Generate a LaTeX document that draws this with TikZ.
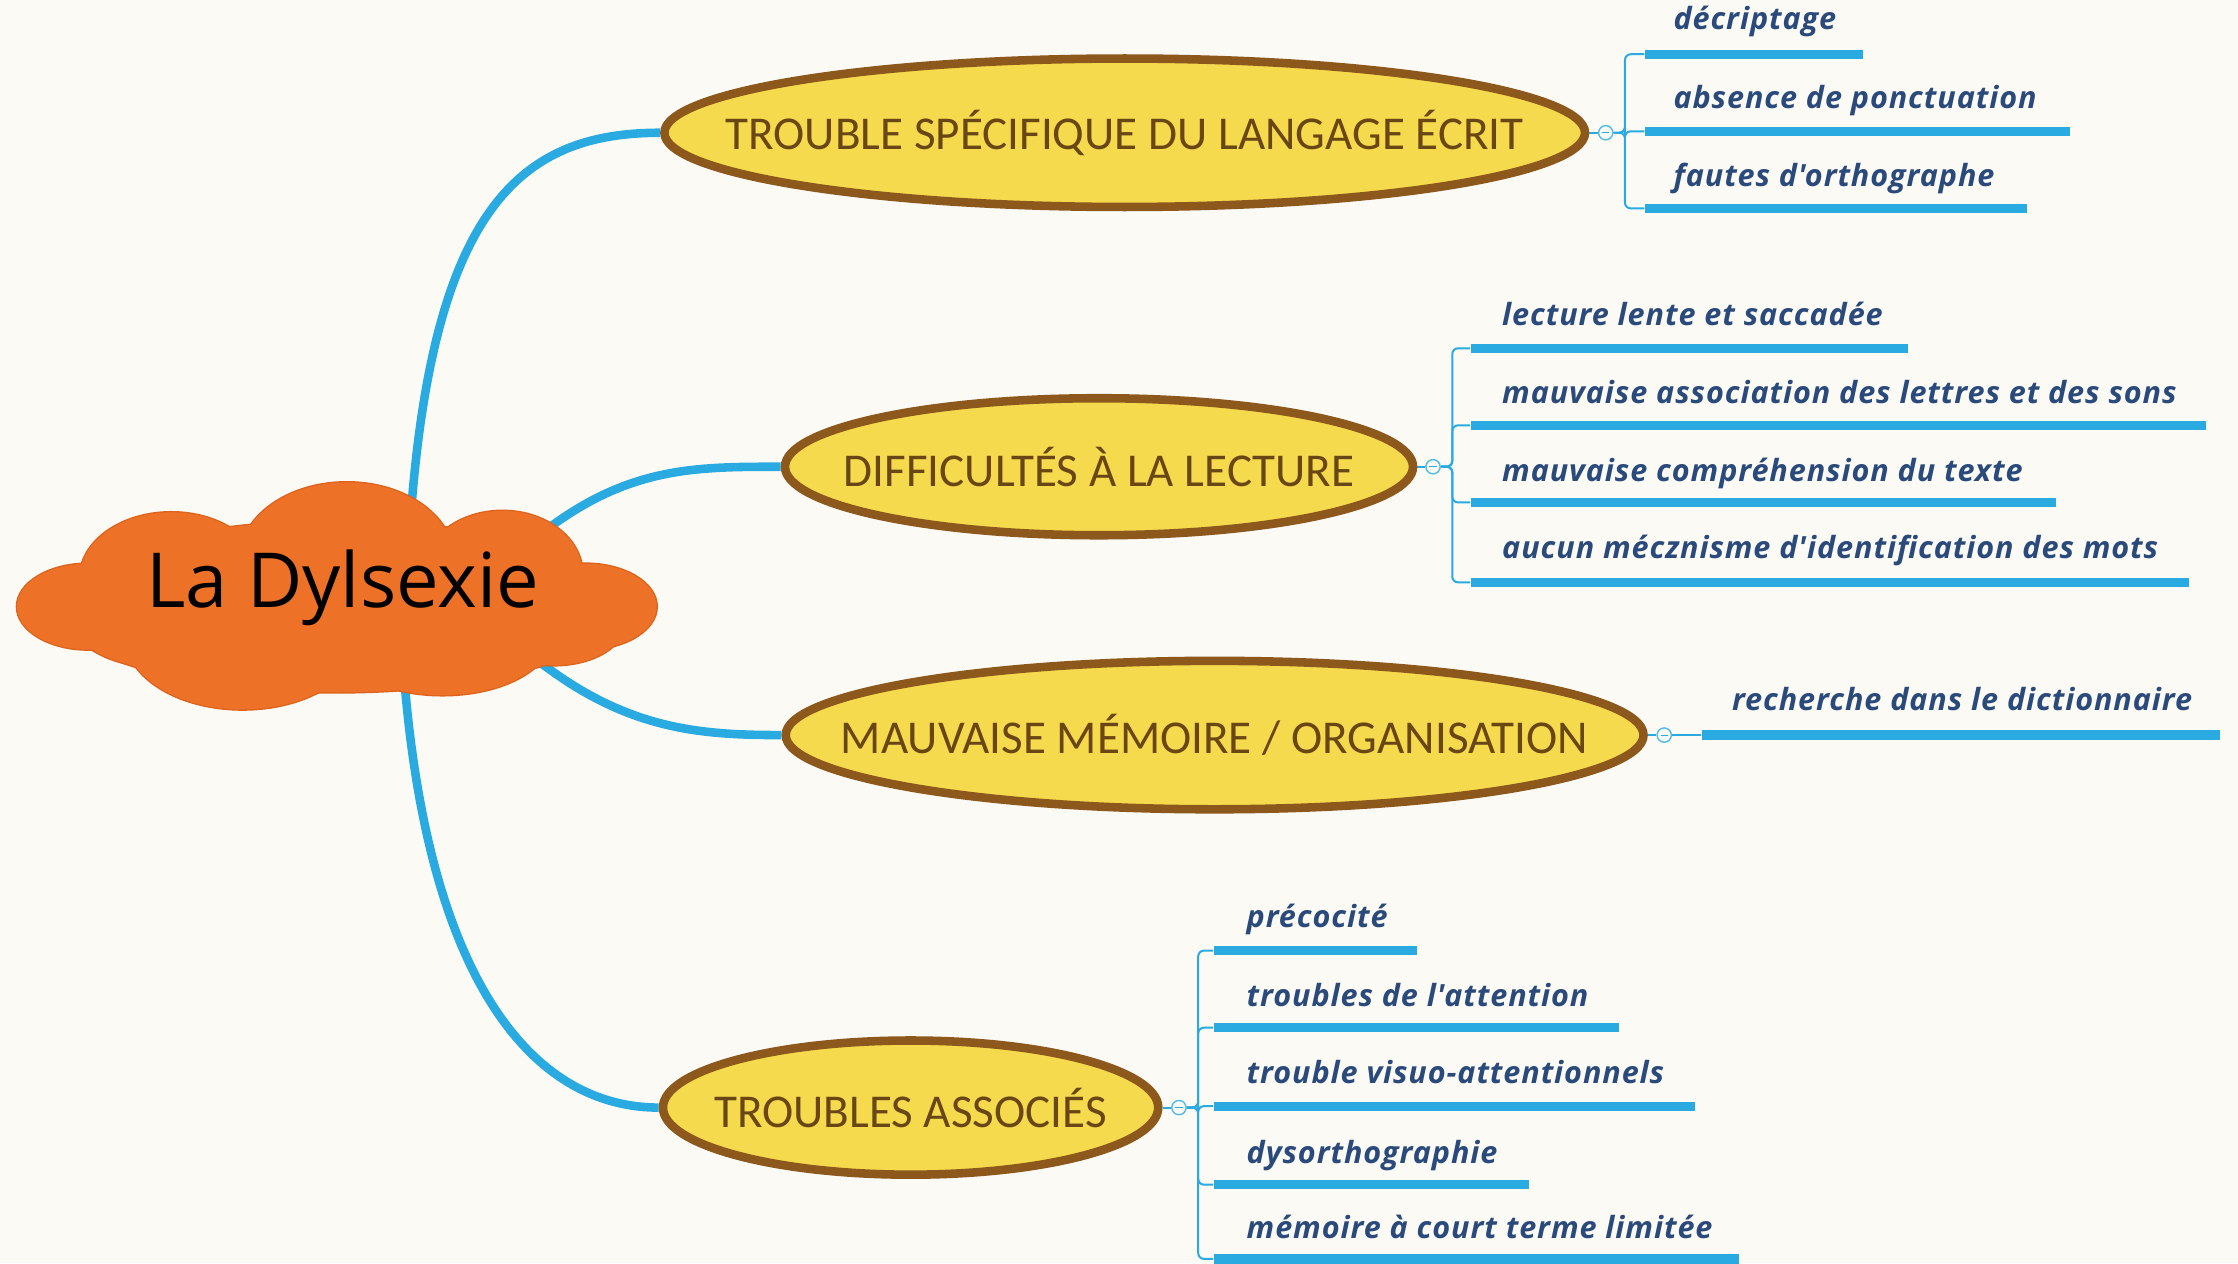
\documentclass[tikz,border=0pt]{standalone}
\usepackage{fontspec}
\usetikzlibrary{shapes.geometric}
\newfontfamily\carl{Carlito}
\newfontfamily\osans{Open Sans}
\newfontfamily\osleaf{Open Sans}[LetterSpace=3]
\newlength\spx \setlength\spx{0.40611pt}
\newcommand\zw[1]{\makebox[0pt][c]{#1}}
\definecolor{bgc}{RGB}{252,250,245}
\definecolor{bluec}{RGB}{41,171,226}
\definecolor{yellowc}{RGB}{246,218,78}
\definecolor{brownc}{RGB}{140,88,28}
\definecolor{browntext}{RGB}{105,70,20}
\definecolor{leaftext}{RGB}{42,74,124}
\definecolor{cloudc}{RGB}{237,113,38}
\definecolor{cloudedge}{RGB}{222,100,30}
\pgfdeclarelayer{bg}
\pgfsetlayers{bg,main}
\tikzset{
  topic/.style={ellipse, draw=brownc, line width=6\spx, fill=yellowc, inner sep=0pt,
    font=\carl\fontsize{13.4pt}{15pt}\selectfont, text=browntext},
  mainlink/.style={draw=bluec, line width=6\spx},
  branch/.style={draw=bluec, line width=1.4\spx, rounded corners=4\spx},
  bar/.style={fill=bluec, minimum height=6.5\spx, inner sep=0pt, anchor=west},
  leaf/.style={anchor=base west, inner sep=0pt, text=leaftext,
    font=\osleaf\bfseries\itshape\fontsize{8.7pt}{10pt}\selectfont},
  knob/.style={circle, draw=bluec!80, fill=bgc, line width=1\spx, minimum size=10\spx, inner sep=0pt,
    path picture={\draw[bluec, line width=0.8\spx]
      ([xshift=-2.5\spx]path picture bounding box.center) -- ([xshift=2.5\spx]path picture bounding box.center);}},
  rootnode/.style={inner sep=0pt, font=\osans\fontsize{21.6pt}{25pt}\selectfont, text=black},
  puff/.style={fill=cloudc},
  puffedge/.style={draw=cloudedge, line width=2\spx}
}
\begin{document}
\begin{tikzpicture}[x=0.40611pt, y=-0.40611pt]
\useasboundingbox (0,0) rectangle (1568,885);
\begin{pgfonlayer}{bg}
\fill[bgc] (0,0) rectangle (1568,885);
\end{pgfonlayer}

% cloud body (edge pass first, then fill pass)
\begin{scope}
\foreach \s in {puffedge,puff}{
\path[\s] (236,425) ellipse [x radius=198, y radius=60];
\path[\s] (243,392) ellipse [x radius=75, y radius=54];
\path[\s] (120,405) ellipse [x radius=64, y radius=46];
\path[\s] (352,402) ellipse [x radius=56, y radius=44];
\path[\s] (62,425) ellipse [x radius=50, y radius=30];
\path[\s] (410,425) ellipse [x radius=50, y radius=30];
\path[\s] (110,435) ellipse [x radius=58, y radius=32];
\path[\s] (170,446) ellipse [x radius=82, y radius=51];
\path[\s] (310,446) ellipse [x radius=76, y radius=41];
\path[\s] (388,436) ellipse [x radius=50, y radius=30];
}
\end{scope}
\node[rootnode] (cloud) at (240,412) {La Dylsexie};

% topics
\node[topic, minimum width=645\spx, minimum height=104\spx] (e1) at (788,93) {\zw{TROUBLE SPÉCIFIQUE DU LANGAGE ÉCRIT}};
\node[topic, minimum width=440\spx, minimum height=96\spx] (e2) at (770,327) {\zw{DIFFICULTÉS À LA LECTURE}};
\node[topic, minimum width=601\spx, minimum height=104\spx] (e3) at (851,515) {\zw{MAUVAISE MÉMOIRE / ORGANISATION}};
\node[topic, minimum width=347\spx, minimum height=94\spx] (e4) at (638,776) {\zw{TROUBLES ASSOCIÉS}};

% main connectors
\begin{pgfonlayer}{bg}
\draw[mainlink] (cloud.center) ++(45,0) .. controls (295,150) and (360,93) .. (e1.west);
\draw[mainlink] (cloud.center) ++(120,-22) .. controls (430,327) and (480,327) .. (e2.west);
\draw[mainlink] (cloud.center) ++(100,18) .. controls (420,510) and (480,515) .. (e3.west);
\draw[mainlink] (cloud.center) ++(40,4) .. controls (288,680) and (370,776) .. (e4.west);
\end{pgfonlayer}

% knobs
\node[knob] (k1) at (1125,93) {};
\node[knob] (k2) at (1004,327) {};
\node[knob] (k3) at (1166,515) {};
\node[knob] (k4) at (826,776) {};

% bars
\node[bar, minimum width=153\spx] (b11) at (1152,38) {};
\node[bar, minimum width=298\spx] (b12) at (1152,92) {};
\node[bar, minimum width=268\spx] (b13) at (1152,146) {};

\node[bar, minimum width=306\spx] (b21) at (1030,244) {};
\node[bar, minimum width=515\spx] (b22) at (1030,298) {};
\node[bar, minimum width=410\spx] (b23) at (1030,352) {};
\node[bar, minimum width=503\spx] (b24) at (1030,408) {};

\node[bar, minimum width=363\spx] (b31) at (1192,515) {};

\node[bar, minimum width=142\spx] (b41) at (850,666) {};
\node[bar, minimum width=284\spx] (b42) at (850,720) {};
\node[bar, minimum width=337\spx] (b43) at (850,775) {};
\node[bar, minimum width=221\spx] (b44) at (850,830) {};
\node[bar, minimum width=368\spx] (b45) at (850,882) {};

% leaf texts
\node[leaf] (t11) at (1172,21) {décriptage};
\node[leaf] (t12) at (1172,76) {absence de ponctuation};
\node[leaf] (t13) at (1172,131) {fautes d'orthographe};

\node[leaf] (t21) at (1052,228) {lecture lente et saccadée};
\node[leaf] (t22) at (1052,283) {mauvaise association des lettres et des sons};
\node[leaf] (t23) at (1052,337) {mauvaise compréhension du texte};
\node[leaf] (t24) at (1052,391) {aucun mécznisme d'identification des mots};

\node[leaf] (t31) at (1213,498) {recherche dans le dictionnaire};

\node[leaf] (t41) at (873,650) {précocité};
\node[leaf] (t42) at (873,705) {troubles de l'attention};
\node[leaf] (t43) at (873,759) {trouble visuo-attentionnels};
\node[leaf] (t44) at (873,815) {dysorthographie};
\node[leaf] (t45) at (873,868) {mémoire à court terme limitée};

% branch connectors
\begin{pgfonlayer}{bg}
\draw[branch] (e1.east) -- (k1.west);
\draw[branch] (e2.east) -- (k2.west);
\draw[branch] (e3.east) -- (k3.west);
\draw[branch] (e4.east) -- (k4.west);
\foreach \b in {b11,b12,b13} \draw[branch] (k1.east) -- ++(8,0) |- (\b.west);
\foreach \b in {b21,b22,b23,b24} \draw[branch] (k2.east) -- ++(8,0) |- (\b.west);
\draw[branch] (k3.east) -- (b31.west);
\foreach \b in {b41,b42,b43,b44,b45} \draw[branch] (k4.east) -- ++(8,0) |- (\b.west);
\end{pgfonlayer}
\end{tikzpicture}
\end{document}
